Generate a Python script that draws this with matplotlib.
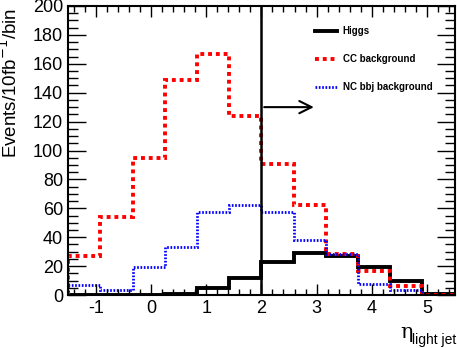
import matplotlib
matplotlib.use('agg')
import matplotlib.pyplot as plt
import numpy as np
from matplotlib.ticker import MultipleLocator

# histogram binning: 12 bins from -1.5 to 5.5
edges = np.linspace(-1.5, 5.5, 13)

higgs = [0, 0, 0, 0.5, 5, 12, 23, 29, 27, 19.5, 9.5, 0.5]
cc_bkg = [27, 54, 95, 149, 167, 124, 91, 62, 28.5, 17, 6, 0]
nc_bbj = [7, 3.5, 19.5, 33.5, 57.5, 62, 57.5, 38, 28.5, 7.5, 3.5, 0]

cut = 2.0
arrow_y = 130
arrow_end = 3.0

plt.rcParams['font.family'] = ['Liberation Sans', 'DejaVu Sans']

fig = plt.figure(figsize=(4.57, 3.48), dpi=100)
ax = fig.add_axes([0.149, 0.152, 0.846, 0.831])

ax.stairs(higgs, edges, color='black', linewidth=2.8, label='Higgs')
ax.stairs(cc_bkg, edges, color='red', linewidth=2.8, linestyle=(0, (1, 1)), label='CC background')
ax.stairs(nc_bbj, edges, color='blue', linewidth=2.0, linestyle=(0, (0.6, 0.6)), label='NC bbj background')

# cut line and arrow
ax.plot([cut, cut], [0, 200], color='black', linewidth=1.8)
ax.annotate('', xy=(arrow_end, arrow_y), xytext=(cut, arrow_y),
            arrowprops=dict(arrowstyle='->', color='black', linewidth=1.5, mutation_scale=22))

ax.set_xlim(-1.5, 5.5)
ax.set_ylim(0, 200)
ax.xaxis.set_major_locator(MultipleLocator(1))
ax.xaxis.set_minor_locator(MultipleLocator(0.2))
ax.yaxis.set_major_locator(MultipleLocator(20))
ax.yaxis.set_minor_locator(MultipleLocator(5))
ax.tick_params(which='both', direction='in', top=True, right=True, width=1.0, labelsize=13)
ax.tick_params(axis='y', which='major', length=13)
ax.tick_params(axis='y', which='minor', length=7)
ax.tick_params(axis='x', which='major', length=8)
ax.tick_params(axis='x', which='minor', length=4)
ax.set_xticks([-1, 0, 1, 2, 3, 4, 5])
ax.set_xticklabels(['-1', '0', '1', '2', '3', '4', '5'])
for s in ax.spines.values():
    s.set_linewidth(1.5)

ax.set_ylabel('Events/10fb$^{-1}$/bin', fontsize=13.5, loc='top')
ax.yaxis.set_label_coords(-0.122, 0.995)

fig.text(400 / 457, 1 - 333 / 348, '\u03b7', fontsize=15, family='DejaVu Serif', va='center', ha='left')
fig.text(412 / 457, 1 - 340 / 348, 'light jet', fontsize=10, va='center', ha='left')

leg = ax.legend(loc='upper left', bbox_to_anchor=(0.615, 0.96), frameon=False,
                prop={'size': 7, 'weight': 'bold'}, labelspacing=1.85,
                handlelength=2.3, handletextpad=0.6)

fig.savefig('out.png', dpi=100)
plt.close()
